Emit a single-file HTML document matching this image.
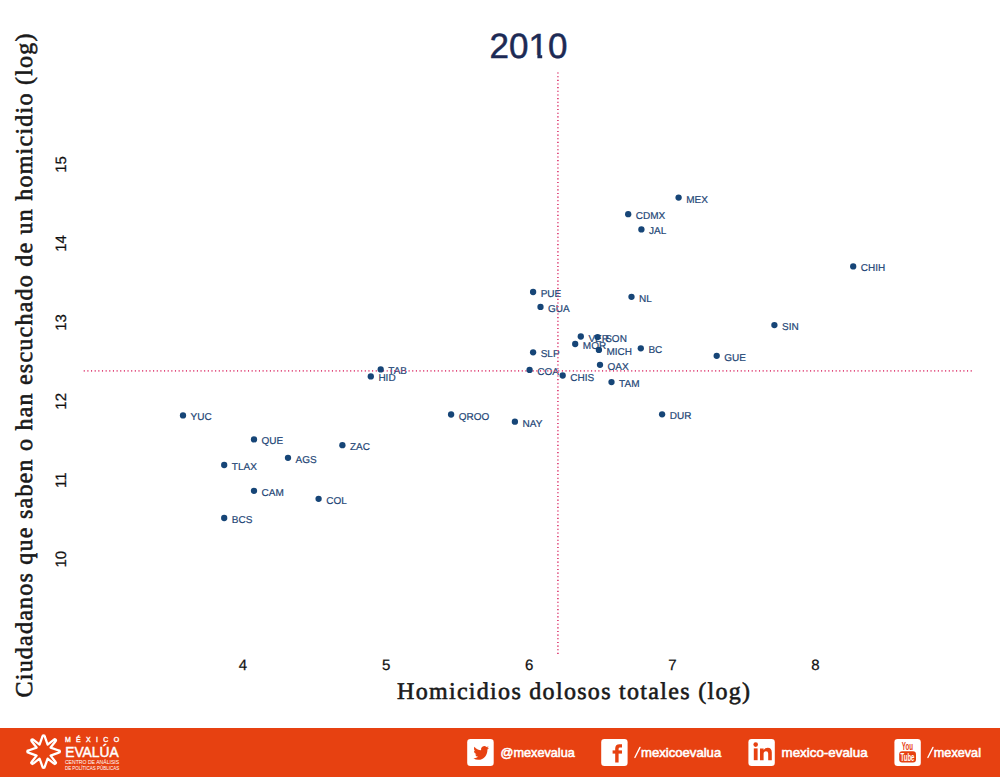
<!DOCTYPE html>
<html><head><meta charset="utf-8">
<style>
html,body{margin:0;padding:0;background:#fff;}
body{width:1000px;height:777px;overflow:hidden;position:relative;font-family:"Liberation Sans",sans-serif;}
#chart{position:absolute;left:0;top:0;}
#foot{position:absolute;left:0;top:728px;}
</style></head><body>
<svg id="chart" text-rendering="geometricPrecision" width="1000" height="728" viewBox="0 0 1000 728">
<text x="528.5" y="57.6" text-anchor="middle" font-family="Liberation Sans" font-size="35" fill="#1c2a55" stroke="#1c2a55" stroke-width="0.5">2010</text>
<rect x="530" y="55" width="7.4" height="5" fill="#fff"/><rect x="542.2" y="55" width="5.8" height="5" fill="#fff"/>
<g font-family="Liberation Sans" font-size="10" fill="#1d4575" stroke="#1d4575" stroke-width="0.2">
<text x="686.2" y="202.6">MEX</text>
<text x="635.8" y="219.2">CDMX</text>
<text x="649.0" y="234.4">JAL</text>
<text x="860.8" y="271.4">CHIH</text>
<text x="540.7" y="297.0">PUE</text>
<text x="639.1" y="301.8">NL</text>
<text x="548.1" y="311.9">GUA</text>
<text x="782.0" y="330.1">SIN</text>
<text x="588.4" y="341.5">VER</text>
<text x="605.2" y="342.1">SON</text>
<text x="582.8" y="349.0">MOR</text>
<text x="606.5" y="354.9">MICH</text>
<text x="648.4" y="353.3">BC</text>
<text x="540.7" y="357.3">SLP</text>
<text x="724.3" y="360.8">GUE</text>
<text x="607.6" y="369.8">OAX</text>
<text x="537.2" y="374.9">COA</text>
<text x="570.3" y="380.5">CHIS</text>
<text x="388.3" y="374.4">TAB</text>
<text x="378.4" y="381.4">HID</text>
<text x="619.1" y="387.1">TAM</text>
<text x="190.6" y="420.4">YUC</text>
<text x="458.7" y="419.5">QROO</text>
<text x="669.7" y="419.3">DUR</text>
<text x="522.5" y="426.7">NAY</text>
<text x="261.6" y="444.4">QUE</text>
<text x="350.0" y="450.2">ZAC</text>
<text x="295.6" y="462.8">AGS</text>
<text x="231.8" y="470.0">TLAX</text>
<text x="261.6" y="495.8">CAM</text>
<text x="326.2" y="503.8">COL</text>
<text x="231.8" y="523.0">BCS</text>
</g>
<line x1="557.9" y1="72.5" x2="557.9" y2="654.5" stroke="#e04a7c" stroke-width="1.8" stroke-dasharray="1.1 2.55"/>
<line x1="83.7" y1="370.8" x2="974.2" y2="370.8" stroke="#e04a7c" stroke-width="1.8" stroke-dasharray="1.1 2.55"/>
<g fill="#164577">
<circle cx="678.6" cy="197.6" r="3.15"/>
<circle cx="628.2" cy="214.2" r="3.15"/>
<circle cx="641.4" cy="229.4" r="3.15"/>
<circle cx="853.2" cy="266.4" r="3.15"/>
<circle cx="533.1" cy="292.0" r="3.15"/>
<circle cx="631.5" cy="296.8" r="3.15"/>
<circle cx="540.5" cy="306.9" r="3.15"/>
<circle cx="774.4" cy="325.1" r="3.15"/>
<circle cx="580.8" cy="336.5" r="3.15"/>
<circle cx="597.6" cy="337.1" r="3.15"/>
<circle cx="575.2" cy="344.0" r="3.15"/>
<circle cx="598.9" cy="349.9" r="3.15"/>
<circle cx="640.8" cy="348.3" r="3.15"/>
<circle cx="533.1" cy="352.3" r="3.15"/>
<circle cx="716.7" cy="355.8" r="3.15"/>
<circle cx="600.0" cy="364.8" r="3.15"/>
<circle cx="529.6" cy="369.9" r="3.15"/>
<circle cx="562.7" cy="375.5" r="3.15"/>
<circle cx="380.7" cy="369.4" r="3.15"/>
<circle cx="370.8" cy="376.4" r="3.15"/>
<circle cx="611.5" cy="382.1" r="3.15"/>
<circle cx="183.0" cy="415.4" r="3.15"/>
<circle cx="451.1" cy="414.5" r="3.15"/>
<circle cx="662.1" cy="414.3" r="3.15"/>
<circle cx="514.9" cy="421.7" r="3.15"/>
<circle cx="254.0" cy="439.4" r="3.15"/>
<circle cx="342.4" cy="445.2" r="3.15"/>
<circle cx="288.0" cy="457.8" r="3.15"/>
<circle cx="224.2" cy="465.0" r="3.15"/>
<circle cx="254.0" cy="490.8" r="3.15"/>
<circle cx="318.6" cy="498.8" r="3.15"/>
<circle cx="224.2" cy="518.0" r="3.15"/>
</g>
<g font-family="Liberation Sans" font-size="15" fill="#111" stroke="#111" stroke-width="0.25" text-anchor="middle">
<text transform="translate(65.8,559.2) rotate(-90)">10</text>
<text transform="translate(65.8,480.3) rotate(-90)">11</text>
<text transform="translate(65.8,401.3) rotate(-90)">12</text>
<text transform="translate(65.8,322.4) rotate(-90)">13</text>
<text transform="translate(65.8,243.4) rotate(-90)">14</text>
<text transform="translate(65.8,164.5) rotate(-90)">15</text>
<text x="243.0" y="670.4">4</text>
<text x="386.1" y="670.4">5</text>
<text x="529.2" y="670.4">6</text>
<text x="672.3" y="670.4">7</text>
<text x="815.4" y="670.4">8</text>
</g>
<text x="397" y="698.8" textLength="353" lengthAdjust="spacing" font-family="Liberation Serif" font-size="24" fill="#1a1a1a" stroke="#1a1a1a" stroke-width="0.6">Homicidios dolosos totales (log)</text>
<text transform="translate(32,697.5) rotate(-90)" textLength="664" lengthAdjust="spacing" font-family="Liberation Serif" font-size="24" fill="#1a1a1a" stroke="#1a1a1a" stroke-width="0.6">Ciudadanos que saben o han escuchado de un homicidio (log)</text>
</svg>
<svg id="foot" width="1000" height="49" viewBox="0 728 1000 49">
<rect x="0" y="728" width="1000" height="49" fill="#e74111"/>
<path d="M58.80 752.70A1.1 1.1 0 0 0 58.80 750.50L50.61 747.55L55.55 741.21A1.1 1.1 0 0 0 53.99 739.65L47.65 744.59L44.70 736.40A1.1 1.1 0 0 0 42.50 736.40L39.55 744.59L33.21 739.65A1.1 1.1 0 0 0 31.65 741.21L36.59 747.55L28.40 750.50A1.1 1.1 0 0 0 28.40 752.70L36.59 755.65L31.65 761.99A1.1 1.1 0 0 0 33.21 763.55L39.55 758.61L42.50 766.80A1.1 1.1 0 0 0 44.70 766.80L47.65 758.61L53.99 763.55A1.1 1.1 0 0 0 55.55 761.99L50.61 755.65Z" fill="#e74111" stroke="#fff" stroke-width="2.3" stroke-linejoin="round"/>
<g fill="#fff" font-family="Liberation Sans">
<text x="64.9" y="742.1" font-size="7" stroke="#fff" stroke-width="0.35" textLength="54.3" lengthAdjust="spacing">MÉXICO</text>
<text x="65.2" y="757" font-size="15" stroke="#fff" stroke-width="0.5" textLength="53.4" lengthAdjust="spacingAndGlyphs">EVALÚA</text>
<text x="64.9" y="764.2" font-size="5.3" textLength="54.3" lengthAdjust="spacingAndGlyphs">CENTRO DE ANÁLISIS</text>
<text x="64.9" y="769.8" font-size="5.3" textLength="54.3" lengthAdjust="spacingAndGlyphs">DE POLÍTICAS PÚBLICAS</text>
</g>
<g fill="#fff">
<rect x="467.2" y="739" width="26.5" height="27" rx="3.2"/>
<rect x="601.2" y="739" width="26.4" height="27" rx="3.2"/>
<rect x="748.4" y="739" width="26.4" height="27" rx="3.2"/>
<rect x="894.4" y="739" width="26.4" height="27" rx="3.2"/>
</g>
<path fill="#e74111" transform="translate(473.4,744.4) scale(0.65,0.71)" d="M23.953 4.57a10 10 0 01-2.825.775 4.958 4.958 0 002.163-2.723c-.951.555-2.005.959-3.127 1.184a4.92 4.92 0 00-8.384 4.482C7.69 8.095 4.067 6.13 1.64 3.162a4.822 4.822 0 00-.666 2.475c0 1.71.87 3.213 2.188 4.096a4.904 4.904 0 01-2.228-.616v.06a4.923 4.923 0 003.946 4.827 4.996 4.996 0 01-2.212.085 4.936 4.936 0 004.604 3.417 9.867 9.867 0 01-6.102 2.105c-.39 0-.779-.023-1.17-.067a13.995 13.995 0 007.557 2.209c9.053 0 13.998-7.496 13.998-13.985 0-.21 0-.42-.015-.63A9.935 9.935 0 0024 4.59z"/>
<g fill="#e74111">
<path d="M615.2 762.6V748.5Q615.2 744.2 619.5 744.2H622V747.4H620Q618.6 747.4 618.6 748.8V762.6Z"/>
<rect x="612.6" y="750.4" width="9.4" height="3.2"/>
<circle cx="755.7" cy="744.6" r="2.3"/>
<rect x="753.8" y="748.4" width="3.8" height="11.8"/>
<path d="M760 760.2V748.4H763.6V750Q765 747.8 767.8 747.8Q771.8 747.8 771.8 752.5V760.2H768.2V753.5Q768.2 751.2 766 751.2Q763.6 751.2 763.6 753.8V760.2Z"/>
<text x="901.8" y="749.8" font-family="Liberation Sans" font-weight="bold" font-size="10" textLength="11.2" lengthAdjust="spacingAndGlyphs">You</text>
<rect x="899.2" y="751.2" width="16.8" height="11.4" rx="3"/>
</g>
<text x="900.6" y="761" fill="#fff" font-family="Liberation Sans" font-weight="bold" font-size="10.5" textLength="13.8" lengthAdjust="spacingAndGlyphs">Tube</text>
<g fill="#fff" stroke="#fff" stroke-width="0.55" font-family="Liberation Sans" font-size="12.6">
<text x="500.5" y="756.5" textLength="74.3" lengthAdjust="spacingAndGlyphs">@mexevalua</text>
<text x="641" y="756.5" textLength="80.2" lengthAdjust="spacingAndGlyphs">mexicoevalua</text>
<text x="781.5" y="756.5" textLength="86.2" lengthAdjust="spacingAndGlyphs">mexico-evalua</text>
<text x="933.8" y="756.5" textLength="47.2" lengthAdjust="spacingAndGlyphs">mexeval</text>
</g>
<g stroke="#fff" stroke-width="1.35" stroke-linecap="round"><line x1="634.9" y1="757.5" x2="640" y2="747.4"/><line x1="927.9" y1="757.5" x2="933" y2="747.4"/></g>
</svg>
</body></html>
